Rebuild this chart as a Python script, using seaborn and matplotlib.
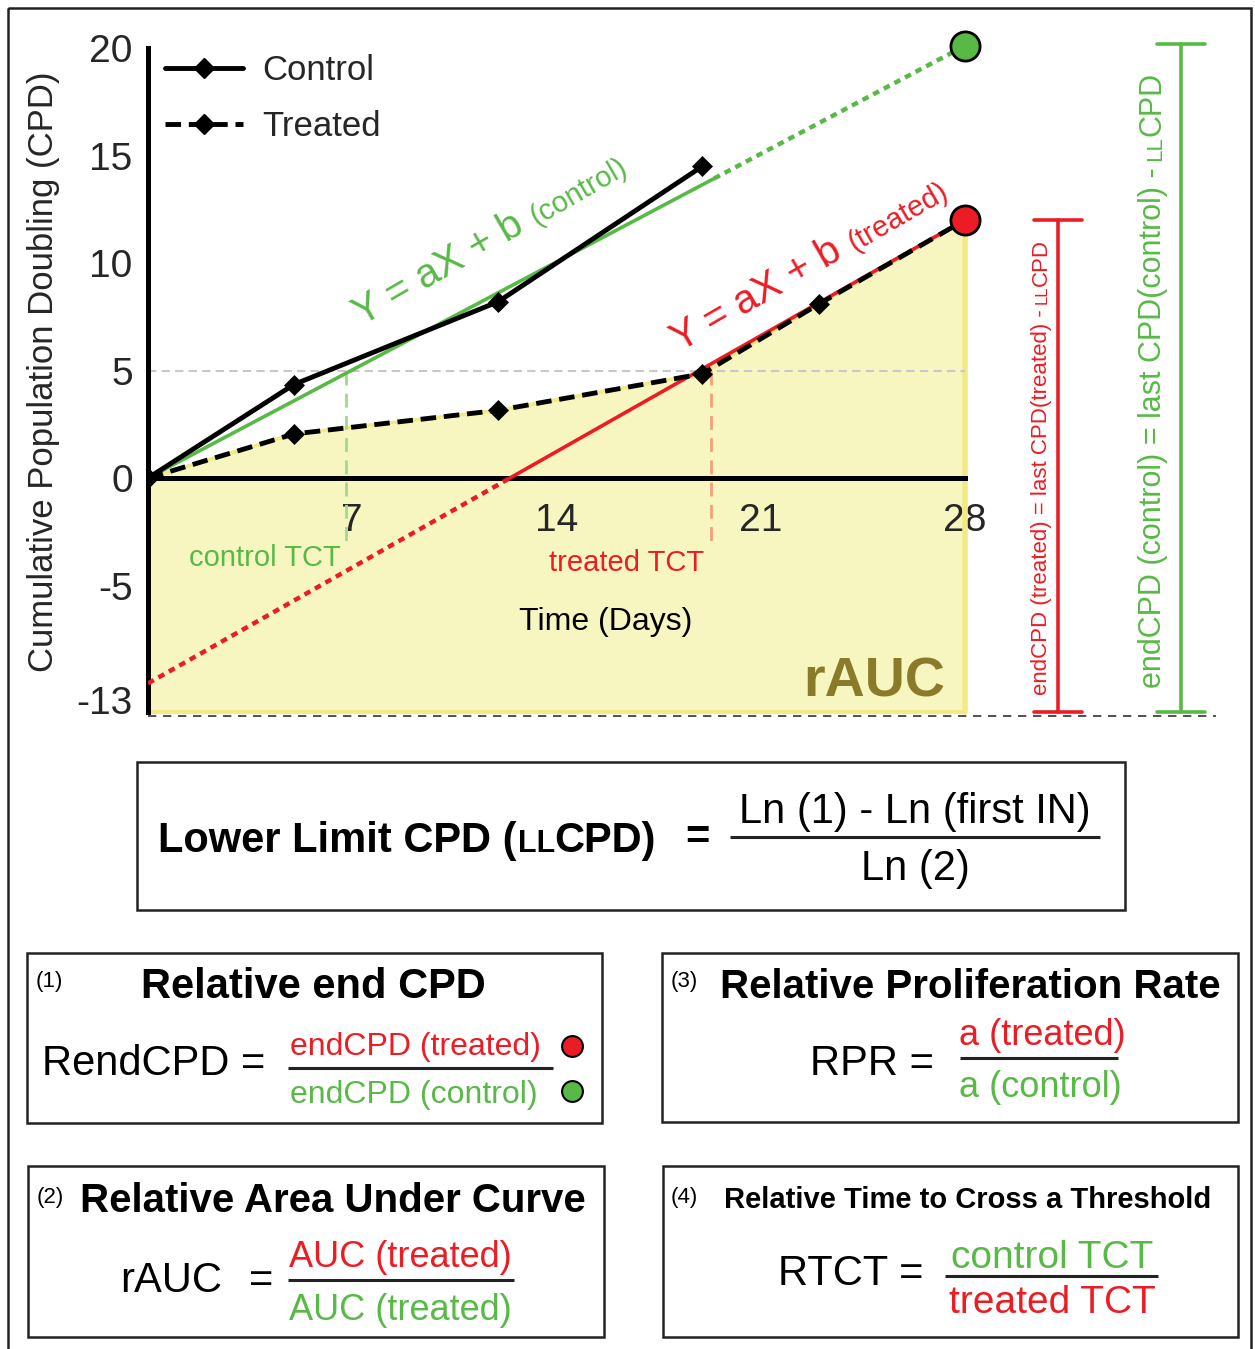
import numpy as np
import matplotlib
matplotlib.use("Agg")
import matplotlib.pyplot as plt
from matplotlib.lines import Line2D
from matplotlib.patches import Rectangle
import seaborn as sns

# ---------------- data ----------------
control_days = [0, 5, 12, 19]
control_cpd = [0.0, 4.35, 8.2, 14.5]
treated_days = [0, 5, 12, 19, 23, 28]
treated_cpd = [0.0, 2.05, 3.15, 4.85, 8.1, 12.0]
end_day = 28
end_cpd_control = 20.1
end_cpd_treated = 12.0
fit_a_control = 0.718
fit_b_control = 0.0
fit_control_solid_end = 19.4
fit_a_treated = 0.77
fit_b_treated = -9.55
threshold = 5
control_tct = 6.8
treated_tct = 19.3
tct_line_bottom = -3.15
llcpd_level = -10.88          # plotted position of the lower limit (labelled -13)
x_ticks = [7, 14, 21, 28]
y_ticks = [20, 15, 10, 5, 0, -5, -10.33]
y_tick_labels = ['20', '15', '10', '5', '0', '-5', '-13']
legend_labels = ['Control', 'Treated']

# ---------------- style ----------------
sns.set_style("white")
plt.rcParams['font.family'] = ['Liberation Sans', 'DejaVu Sans']
plt.rcParams['axes.unicode_minus'] = False

GREEN = '#58B947'
RED = '#EC1C24'
YELLOW = '#F8F6C0'
YELLOW_EDGE = '#F1EA86'
OLIVE = '#8A7B2B'
LGREEN = '#A3D795'
SALMON = '#F4A07C'

W, H = 1255, 1349
fig = plt.figure(figsize=(W / 100, H / 100), dpi=100)
ax = fig.add_axes([148 / W, 1 - 712 / H, 817 / W, 664 / H])
ax.set_xlim(0, end_day)
ax.set_ylim(llcpd_level, 20)

# yellow area under treated curve
ax.fill_between(treated_days, llcpd_level, treated_cpd, color=YELLOW, lw=0, zorder=0.5)
ax.plot(treated_days, treated_cpd, color=YELLOW_EDGE, lw=2.5, zorder=0.6)
ax.plot([end_day, end_day], [llcpd_level, end_cpd_treated], color=YELLOW_EDGE, lw=4, zorder=0.6, clip_on=False)
ax.plot([0, end_day], [llcpd_level, llcpd_level], color=YELLOW_EDGE, lw=3, zorder=0.6, clip_on=False)

# threshold and TCT lines
ax.plot([0, end_day], [threshold, threshold], color='#C8C8C8', lw=1.5, ls=(0, (4, 2.5)), zorder=1)
ax.plot([control_tct, control_tct], [threshold, tct_line_bottom], color=LGREEN, lw=2, ls=(0, (5, 3)), zorder=1)
ax.plot([treated_tct, treated_tct], [threshold, tct_line_bottom], color=SALMON, lw=2, ls=(0, (5, 3)), zorder=1)

# fit lines
xc_solid = np.array([0, fit_control_solid_end])
xc_dot = np.array([fit_control_solid_end, end_day])
sns.lineplot(x=xc_solid, y=fit_a_control * xc_solid + fit_b_control, color=GREEN, lw=2.6, ax=ax, zorder=3)
sns.lineplot(x=xc_dot, y=fit_a_control * xc_dot + fit_b_control, color=GREEN, lw=3.2, ls=(0, (1.5, 1.2)), ax=ax, zorder=3)
x0_t = -fit_b_treated / fit_a_treated
xt_dot = np.array([0, x0_t])
xt_solid = np.array([x0_t, end_day])
sns.lineplot(x=xt_dot, y=fit_a_treated * xt_dot + fit_b_treated, color=RED, lw=3.2, ls=(0, (1.5, 1.2)), ax=ax, zorder=3)
sns.lineplot(x=xt_solid, y=fit_a_treated * xt_solid + fit_b_treated, color=RED, lw=2.6, ax=ax, zorder=3.5)

# data lines
sns.lineplot(x=control_days, y=control_cpd, color='black', lw=3.5, marker='D', markersize=10,
             mec='black', mew=0.5, ax=ax, zorder=4)
sns.lineplot(x=treated_days, y=treated_cpd, color='black', lw=3.5, ls=(0, (3.2, 1.6)), marker='D',
             markersize=10, mec='black', mew=0.5, ax=ax, zorder=4)

# end points
ax.plot([end_day], [end_cpd_control], 'o', ms=21, mfc=GREEN, mec='black', mew=2, clip_on=False, zorder=6)
ax.plot([end_day], [end_cpd_treated], 'o', ms=21, mfc=RED, mec='black', mew=2, clip_on=False, zorder=6)

# brackets
xr, xg, cap = 31.2, 35.4, 0.82
for xb, top, col in [(xr, end_cpd_treated, RED), (xg, end_cpd_control + 0.1, GREEN)]:
    ax.plot([xb, xb], [llcpd_level, top], color=col, lw=2.6, clip_on=False, zorder=5)
    ax.plot([xb - cap, xb + cap], [top, top], color=col, lw=2.6, clip_on=False, zorder=5)
    ax.plot([xb - cap, xb + cap], [llcpd_level, llcpd_level], color=col, lw=2.6, clip_on=False, zorder=5)
ax.plot([0, 36.6], [-11.07, -11.07], color='#333333', lw=1.2, ls=(0, (5, 4)), clip_on=False, zorder=1)

# axes styling
ax.spines['top'].set_visible(False)
ax.spines['right'].set_visible(False)
ax.spines['bottom'].set_position(('data', 0))
for s in ['left', 'bottom']:
    ax.spines[s].set_linewidth(3.6)
    ax.spines[s].set_color('black')
    ax.spines[s].set_zorder(2.5)
ax.set_xticks(x_ticks)
ax.set_xticklabels([str(t) for t in x_ticks])
ax.set_yticks(y_ticks)
ax.set_yticklabels(y_tick_labels)
ax.tick_params(axis='both', direction='out', length=6, width=3.6, labelsize=28, color='black')
ax.tick_params(axis='y', pad=5)
ax.tick_params(axis='x', pad=12)
ax.set_ylabel('Cumulative Population Doubling (CPD)', fontsize=25)
ax.yaxis.set_label_coords((60 - 148) / 817, (712 - 372) / 664)

# annotations in data space
ax.text(4.0, -3.72, 'control TCT', color=GREEN, fontsize=21, ha='center', va='center')
ax.text(16.4, -3.95, 'treated TCT', color=RED, fontsize=21, ha='center', va='center')
ax.text(15.7, -6.7, 'Time (Days)', color='black', fontsize=23, ha='center', va='center')
ax.text(24.9, -9.5, 'rAUC', color=OLIVE, fontsize=40, fontweight='bold', ha='center', va='center')

# legend
handles = [Line2D([], [], color='black', lw=3.5, marker='D', ms=10, mec='black'),
           Line2D([], [], color='black', lw=3.5, ls=(0, (3.2, 1.6)), marker='D', ms=10, mec='black')]
ax.legend(handles, legend_labels, loc='upper left', bbox_to_anchor=(165 / W, 1 - 54 / H),
          bbox_transform=fig.transFigure, frameon=False, fontsize=25, handlelength=2.25,
          handletextpad=0.55, labelspacing=0.66, borderpad=0, borderaxespad=0)

# ---------------- overlay (pixel coordinates) ----------------
ov = fig.add_axes([0, 0, 1, 1])
ov.set_xlim(0, W)
ov.set_ylim(H, 0)
ov.axis('off')
ov.patch.set_alpha(0)
renderer = fig.canvas.get_renderer()


def rich(x, y, pieces, rot=0.0, ha='left', zorder=10):
    widths = []
    for s, kw, gap in pieces:
        t = ov.text(0, 0, s, **kw)
        widths.append(t.get_window_extent(renderer).width)
        t.remove()
    total = sum(widths) + sum(p[2] for p in pieces[:-1])
    pos = {'left': 0.0, 'center': -total / 2, 'right': -total}[ha]
    c, sn = np.cos(np.radians(rot)), np.sin(np.radians(rot))
    for (s, kw, gap), w in zip(pieces, widths):
        ov.text(x + pos * c, y - pos * sn, s, rotation=rot, rotation_mode='anchor',
                ha='left', va='baseline', zorder=zorder, **kw)
        pos += w + gap


def T(size, color='black', bold=False):
    return dict(fontsize=size, color=color, fontweight='bold' if bold else 'normal')


# rotated fit equations
rich(362, 326, [('Y = aX + b', T(29, GREEN), 12), ('(control)', T(21, GREEN), 0)], rot=30)
rich(680, 352, [('Y = aX + b', T(29, RED), 12), ('(treated)', T(21, RED), 0)], rot=30)

# bracket texts
rich(1047, 467, [('endCPD (treated) = last CPD(treated) -', T(16, RED), 5), ('LL', T(12, RED), 0),
                 ('CPD', T(16, RED), 0)], rot=90, ha='center')
rich(1161, 380, [('endCPD (control) = last CPD(control) -', T(22, GREEN), 7), ('LL', T(16, GREEN), 0),
                 ('CPD', T(22, GREEN), 0)], rot=90, ha='center')

# outer frame
ov.add_patch(Rectangle((8, 8), 1243, 1400, fill=False, lw=1.8, ec='#222222', clip_on=False))


def box(x0, y0, x1, y1):
    ov.add_patch(Rectangle((x0, y0), x1 - x0, y1 - y0, fill=False, lw=1.8, ec='#222222'))


def fline(x0, x1, y):
    ov.plot([x0, x1], [y, y], color='#222222', lw=2.2, solid_capstyle='butt')


# LLCPD box
box(137, 762, 1125, 910)
rich(158, 852, [('Lower Limit CPD (', T(30, bold=True), 1), ('LL', T(22, bold=True), 0),
                ('CPD)', T(30, bold=True), 0)])
ov.text(697, 838, '=', ha='center', va='center', **T(30, bold=True))
ov.text(915, 823, 'Ln (1) - Ln (first IN)', ha='center', va='baseline', **T(30))
fline(730, 1100, 837)
ov.text(915, 880, 'Ln (2)', ha='center', va='baseline', **T(30))

# Box 1
box(27, 953, 602, 1123)
ov.text(36, 987, '(1)', ha='left', va='baseline', **T(16))
ov.text(313, 998, 'Relative end CPD', ha='center', va='baseline', **T(30, bold=True))
ov.text(42, 1075, 'RendCPD =', ha='left', va='baseline', **T(30))
ov.text(415, 1055, 'endCPD (treated)', ha='center', va='baseline', **T(23, RED))
fline(288, 553, 1068)
ov.text(414, 1103, 'endCPD (control)', ha='center', va='baseline', **T(23, GREEN))
ov.plot([572], [1046], 'o', ms=15, mfc=RED, mec='black', mew=1.5)
ov.plot([572], [1091], 'o', ms=15, mfc=GREEN, mec='black', mew=1.5)

# Box 2
box(28, 1166, 604, 1337)
ov.text(37, 1203, '(2)', ha='left', va='baseline', **T(16))
ov.text(80, 1212, 'Relative Area Under Curve', ha='left', va='baseline', **T(29, bold=True))
ov.text(120, 1292, 'rAUC', ha='left', va='baseline', **T(30))
ov.text(261, 1292, '=', ha='center', va='baseline', **T(30))
ov.text(400, 1267, 'AUC (treated)', ha='center', va='baseline', **T(26, RED))
fline(288, 514, 1280)
ov.text(400, 1320, 'AUC (treated)', ha='center', va='baseline', **T(26, GREEN))

# Box 3
box(662, 953, 1238, 1122)
ov.text(671, 987, '(3)', ha='left', va='baseline', **T(16))
ov.text(720, 998, 'Relative Proliferation Rate', ha='left', va='baseline', **T(29, bold=True))
ov.text(810, 1075, 'RPR =', ha='left', va='baseline', **T(30))
ov.text(1042, 1045, 'a (treated)', ha='center', va='baseline', **T(26, RED))
fline(960, 1118, 1058)
ov.text(1040, 1097, 'a (control)', ha='center', va='baseline', **T(26, GREEN))

# Box 4
box(663, 1166, 1238, 1337)
ov.text(671, 1203, '(4)', ha='left', va='baseline', **T(16))
ov.text(724, 1208, 'Relative Time to Cross a Threshold', ha='left', va='baseline', **T(21, bold=True))
ov.text(778, 1285, 'RTCT =', ha='left', va='baseline', **T(30))
ov.text(1052, 1268, 'control TCT', ha='center', va='baseline', **T(28, GREEN))
fline(945, 1158, 1276)
ov.text(1052, 1313, 'treated TCT', ha='center', va='baseline', **T(28, RED))

fig.savefig('out.png', dpi=100)
